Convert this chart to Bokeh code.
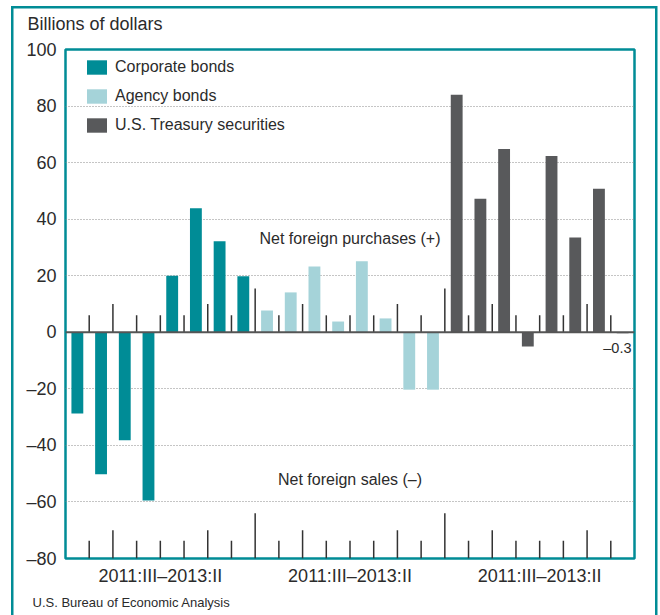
from bokeh.plotting import figure
from bokeh.models import (Range1d, FixedTicker, Span, Title, Legend, LegendItem, ColumnDataSource)
from bokeh.core.properties import value
from bokeh.embed import file_html
from bokeh.resources import INLINE

# ---- data ----
quarters = ["2011:III", "2011:IV", "2012:I", "2012:II", "2012:III", "2012:IV", "2013:I", "2013:II"]
series_names = ["Corporate bonds", "Agency bonds", "U.S. Treasury securities"]
corporate = [-28.7, -50.2, -38.2, -59.5, 20.0, 43.9, 32.2, 19.8]
agency = [7.7, 14.1, 23.3, 3.8, 25.1, 4.9, -20.3, -20.3]
treasury = [84.0, 47.2, 64.8, -5.0, 62.3, 33.5, 50.8, -0.3]
y_ticks = [-80, -60, -40, -20, 0, 20, 40, 60, 80, 100]
y_tick_labels = ["–80", "–60", "–40", "–20", "0", "20", "40", "60", "80", "100"]
note_purchases = "Net foreign purchases (+)"
note_sales = "Net foreign sales (–)"
y_title = "Billions of dollars"
source_text = "U.S. Bureau of Economic Analysis"

TEAL = "#008C96"
LIGHT = "#A5D3D9"
DARK = "#58595B"
TXT = "#2b2b2b"
SANS = "Liberation Sans"

nq = len(quarters)
all_series = [corporate, agency, treasury]
colors = [TEAL, LIGHT, DARK]
nslots = nq * len(all_series)

p = figure(width=660, height=615, output_backend="svg", toolbar_location=None, title=None,
           x_range=Range1d(0, nslots), y_range=Range1d(y_ticks[0], y_ticks[-1]),
           min_border_left=65, min_border_right=26, min_border_top=49, min_border_bottom=57)
p.background_fill_color = "white"
p.border_fill_alpha = 0
p.outline_line_color = TEAL
p.outline_line_width = 2.5
g = f"linear-gradient({TEAL},{TEAL})"
p.styles = {"background": f"{g} 11px 5.5px / 2.5px 700px no-repeat, "
                          f"{g} 655px 5.5px / 2.5px 700px no-repeat, "
                          f"{g} 11px 5.5px / 646px 2.5px no-repeat, #ffffff"}

# grid
p.xgrid.visible = False
p.ygrid.ticker = FixedTicker(ticks=[t for t in y_ticks if t not in (0, y_ticks[0], y_ticks[-1])])
p.ygrid.grid_line_color = "#8a8a8a"
p.ygrid.grid_line_dash = "1 2"
p.ygrid.grid_line_width = 1

# axes
p.yaxis.ticker = FixedTicker(ticks=y_ticks)
p.yaxis.major_label_overrides = {t: l for t, l in zip(y_ticks, y_tick_labels)}
p.yaxis.major_label_standoff = 9
group_centers = [k * nq + nq / 2 for k in range(len(all_series))]
p.xaxis.ticker = FixedTicker(ticks=group_centers)
p.xaxis.major_label_overrides = {c: f"{quarters[0]}–{quarters[-1]}" for c in group_centers}
p.xaxis.major_label_standoff = 7
for ax in (p.xaxis, p.yaxis):
    ax.axis_line_color = None
    ax.major_tick_out = 0
    ax.major_tick_in = 0
    ax.minor_tick_out = 0
    ax.minor_tick_in = 0
    ax.major_label_text_font = SANS
    ax.major_label_text_font_size = "18px"
    ax.major_label_text_color = TXT

# tick marks at zero line and at bottom
bx, top_h, bot_h = [], [], []
for b in range(1, nslots):
    if b % nq == 0:
        ht, hb = 15.5, 16
    elif quarters[b % nq].endswith(":I"):
        ht, hb = 10, 10
    else:
        ht, hb = 6, 6.3
    bx.append(b)
    top_h.append(ht)
    bot_h.append(y_ticks[0] + hb)
p.segment(x0=bx, y0=[0] * len(bx), x1=bx, y1=top_h, line_color="#333333", line_width=1.5)
p.segment(x0=bx, y0=[y_ticks[0]] * len(bx), x1=bx, y1=bot_h, line_color="#333333", line_width=1.5)

# bars
items = []
for s, (vals, col, name) in enumerate(zip(all_series, colors, series_names)):
    src = ColumnDataSource(dict(x=[s * nq + i + 0.5 for i in range(nq)], top=vals))
    r = p.vbar(x="x", top="top", bottom=0, width=0.5, source=src, fill_color=col, line_color=None)
    items.append(LegendItem(label=name, renderers=[r]))

p.add_layout(Span(location=0, dimension="width", line_color="#555555", line_width=2))

legend = Legend(items=items, location=(19, 422), orientation="vertical",
                glyph_width=25, glyph_height=18, label_height=22, spacing=7,
                label_standoff=6, padding=0, margin=0,
                border_line_color=None, background_fill_alpha=0,
                label_text_font=SANS, label_text_font_size="16px", label_text_color=TXT)
p.add_layout(legend)

# annotations inside plot
p.text(x=[nslots / 2], y=[33], text=[note_purchases], text_font=value(SANS),
       text_font_size="16px", text_color=TXT, text_align="center", text_baseline="middle")
p.text(x=[nslots / 2], y=[-52], text=[note_sales], text_font=value(SANS),
       text_font_size="16px", text_color=TXT, text_align="center", text_baseline="middle")
last = treasury[-1]
p.text(x=[nslots], y=[last], text=[f"–{abs(last)}"], x_offset=-3, y_offset=7,
       text_font=value(SANS), text_font_size="14.5px", text_color=TXT,
       text_align="right", text_baseline="top")

# title above and source below
p.add_layout(Title(text=y_title, align="left", offset=-38, standoff=26.5, vertical_align="top",
                   text_font=SANS, text_font_size="18px", text_font_style="normal",
                   text_color=TXT), "above")
p.add_layout(Title(text=source_text, align="left", offset=-33, standoff=9,
                   text_font=SANS, text_font_size="13px", text_font_style="normal",
                   text_color=TXT), "below")

open("out.html", "w").write(file_html(p, INLINE))
